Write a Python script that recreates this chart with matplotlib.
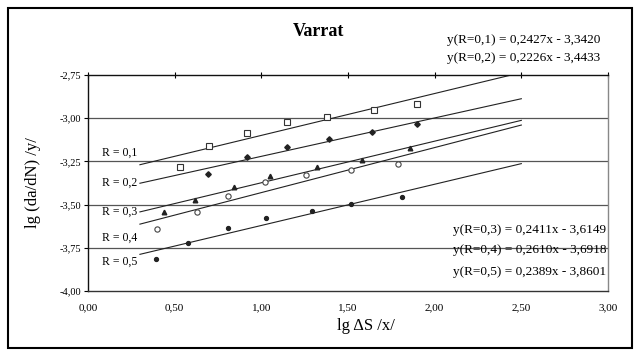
import matplotlib.pyplot as plt
import numpy as np
from matplotlib.ticker import FuncFormatter, MultipleLocator
from matplotlib.patches import Rectangle

plt.rcParams['font.family'] = ['Liberation Serif', 'DejaVu Serif']

# measured points (lg dS, lg da/dN) for each R
x_r1 = [0.53, 0.70, 0.92, 1.15, 1.38, 1.65, 1.90]
y_r1 = [-3.283, -3.162, -3.087, -3.023, -2.994, -2.954, -2.919]
x_r2 = [0.69, 0.92, 1.15, 1.39, 1.64, 1.90]
y_r2 = [-3.324, -3.225, -3.168, -3.121, -3.081, -3.035]
x_r3 = [0.44, 0.62, 0.84, 1.05, 1.32, 1.58, 1.86]
y_r3 = [-3.543, -3.474, -3.399, -3.335, -3.283, -3.243, -3.173]
x_r4 = [0.40, 0.63, 0.81, 1.02, 1.26, 1.52, 1.79]
y_r4 = [-3.642, -3.543, -3.451, -3.370, -3.329, -3.301, -3.266]
x_r5 = [0.39, 0.58, 0.81, 1.03, 1.29, 1.52, 1.81]
y_r5 = [-3.815, -3.723, -3.636, -3.578, -3.538, -3.497, -3.457]

# fitted lines: slope, intercept
slopes = [0.2427, 0.2226, 0.2411, 0.2610, 0.2389]
intercepts = [-3.3420, -3.4433, -3.6149, -3.6918, -3.8601]
r_labels = ["R = 0,1", "R = 0,2", "R = 0,3", "R = 0,4", "R = 0,5"]
label_y = [-3.20, -3.375, -3.54, -3.69, -3.83]
eq_texts = ["y(R=0,1) = 0,2427x - 3,3420", "y(R=0,2) = 0,2226x - 3,4433",
            "y(R=0,3) = 0,2411x - 3,6149", "y(R=0,4) = 0,2610x - 3,6918",
            "y(R=0,5) = 0,2389x - 3,8601"]

fig = plt.figure(figsize=(6.37, 3.56), dpi=100)
ax = fig.add_axes([0.138, 0.183, 0.8165, 0.606])

# outer frame
fig.patches.append(Rectangle((8/637, 8/356), 624/637, 340/356, transform=fig.transFigure,
                             fill=False, edgecolor='black', linewidth=1.5))

for yy in [-3.0, -3.25, -3.5, -3.75]:
    ax.axhline(yy, color='#555555', linewidth=0.9, zorder=1)

xl = np.array([0.3, 2.5])
for s, b in zip(slopes, intercepts):
    ax.plot(xl, s * xl + b, color='#222222', linewidth=0.8, zorder=2)

ax.plot(x_r1, y_r1, 's', ms=3.8, mfc='white', mec='#333333', mew=0.8, zorder=3)
ax.plot(x_r2, y_r2, 'D', ms=2.8, mfc='#222222', mec='#222222', zorder=3)
ax.plot(x_r3, y_r3, '^', ms=3.3, mfc='#222222', mec='#222222', zorder=3)
ax.plot(x_r4, y_r4, 'o', ms=3.8, mfc='white', mec='#444444', mew=0.8, zorder=3)
ax.plot(x_r5, y_r5, 'o', ms=2.8, mfc='#222222', mec='#222222', zorder=3)

for lab, yy in zip(r_labels, label_y):
    ax.text(0.08, yy, lab, fontsize=8.5, va='center', ha='left', zorder=4)

fig.text(600/637, 1 - 40/356, eq_texts[0], fontsize=9.5, ha='right', va='center')
fig.text(600/637, 1 - 58/356, eq_texts[1], fontsize=9.5, ha='right', va='center')
for t, yy in zip(eq_texts[2:], [-3.645, -3.765, -3.89]):
    ax.text(2.99, yy, t, fontsize=9.5, ha='right', va='center', zorder=4)

fig.text(318/637, 1 - 31/356, "Varrat", fontsize=13, fontweight='bold', ha='center', va='center')

ax.set_xlim(0, 3)
ax.set_ylim(-4.0, -2.75)
ax.xaxis.set_major_locator(MultipleLocator(0.5))
ax.yaxis.set_major_locator(MultipleLocator(0.25))
fmt = FuncFormatter(lambda v, p: f"{v:.2f}".replace('.', ','))
ax.xaxis.set_major_formatter(fmt)
ax.yaxis.set_major_formatter(fmt)
ax.tick_params(axis='x', top=True, bottom=False, labeltop=False, labelbottom=True,
               direction='inout', length=4, width=0.8, labelsize=8, pad=7)
ax.tick_params(axis='y', direction='out', length=3, width=0.8, labelsize=7.5, pad=2)

ax.spines['left'].set_color('#111111')
ax.spines['top'].set_color('#111111')
ax.spines['bottom'].set_color('#333333')
ax.spines['right'].set_color('#888888')
for sp in ax.spines.values():
    sp.set_linewidth(1.0)

fig.text(366/637, 1 - 326/356, "lg \u0394S /x/", fontsize=12, ha='center', va='center')
fig.text(33/637, 1 - 183/356, "lg (da/dN) /y/", fontsize=12, rotation=90,
         ha='center', va='center')

fig.savefig("out.png", dpi=100)
